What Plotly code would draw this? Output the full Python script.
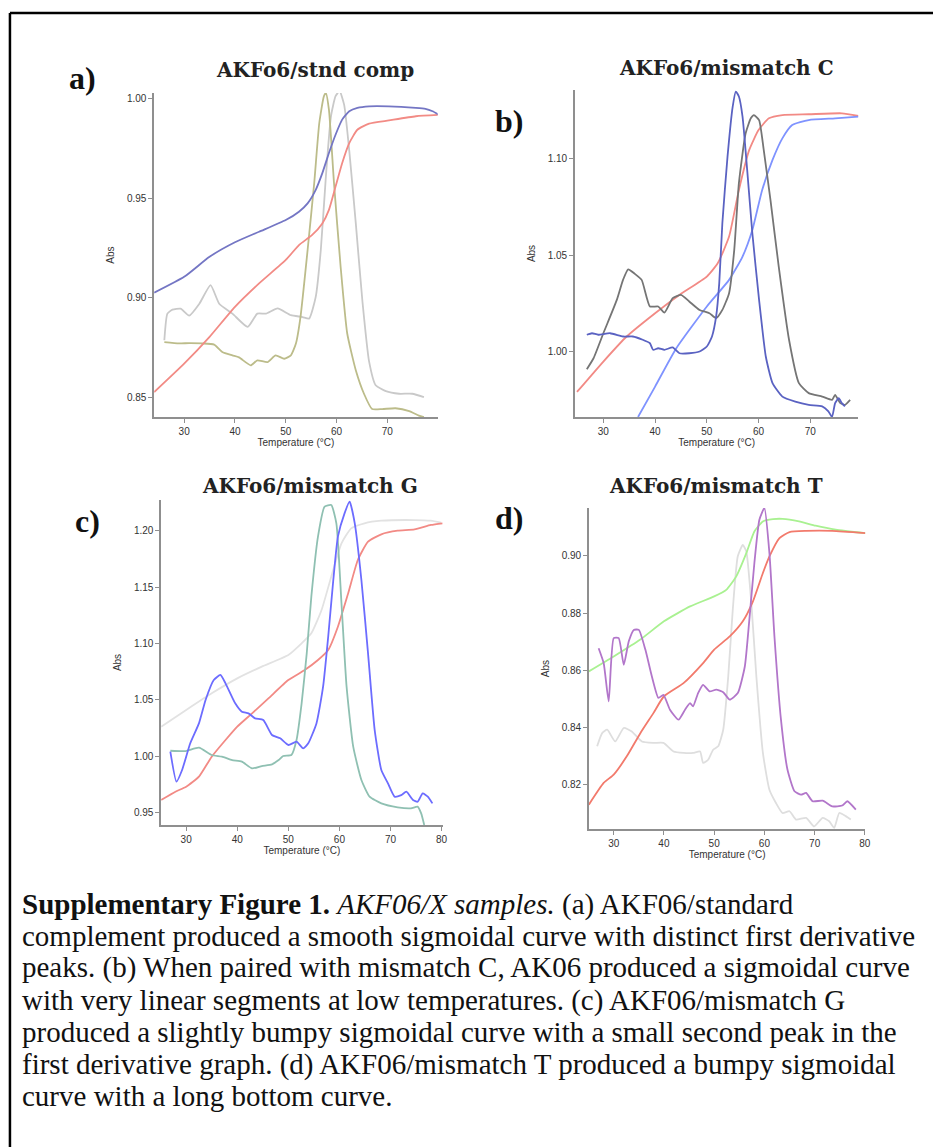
import plotly.graph_objects as go

W, H = 938, 1147

# ---------------- Panel a: AKFo6/stnd comp ----------------
a_sig_blue_T = [24.1, 30, 35, 40, 44.75, 50, 52.6, 54.3, 55.9, 57.2, 58.5, 59.8, 61.1, 62.5, 64.1, 66.4, 70.3, 75.6, 77.5, 78.9, 80.2]
a_sig_blue_v = [0.9025, 0.9105, 0.9206, 0.9279, 0.9332, 0.9391, 0.9433, 0.9475, 0.9543, 0.9627, 0.9728, 0.982, 0.9896, 0.9938, 0.9955, 0.9963, 0.9963, 0.9955, 0.995, 0.9938, 0.992]
a_sig_red_T = [24.1, 30, 35, 40, 44.75, 50, 52.6, 55.2, 57.2, 58.5, 59.8, 61.1, 62.5, 64.1, 66.4, 70.3, 75.6, 80.2]
a_sig_red_v = [0.8525, 0.8668, 0.8803, 0.8954, 0.9072, 0.919, 0.9265, 0.9316, 0.9374, 0.9442, 0.9559, 0.9677, 0.9778, 0.9845, 0.9876, 0.9892, 0.9913, 0.992]
a_der_gray_T = [26.1, 26.7, 27.7, 29.3, 31, 33, 35.2, 36.9, 39.5, 42.5, 44.4, 46.1, 48.4, 51, 53.3, 54.6, 55.9, 56.9, 57.9, 58.9, 59.8, 60.6, 61.5, 62.5, 63.8, 65.1, 66.4, 67.7, 69.7, 72.3, 74.9, 77.2]
a_der_gray_v = [0.8786, 0.892, 0.894, 0.8945, 0.891, 0.897, 0.9063, 0.897, 0.892, 0.8853, 0.892, 0.892, 0.8946, 0.8912, 0.8903, 0.8895, 0.9004, 0.924, 0.961, 0.9913, 1.0014, 1.004, 0.997, 0.974, 0.937, 0.898, 0.868, 0.856, 0.853, 0.8517, 0.8517, 0.850]
a_der_olive_T = [26.1, 29, 31, 33.6, 35.9, 37.5, 39.5, 40.8, 43.1, 44.4, 46.4, 48, 49.7, 51, 52, 52.9, 54.3, 55.6, 56.6, 57.5, 57.9, 58.5, 59.5, 60.8, 62.1, 63.8, 65.4, 67, 69, 71.6, 74.3, 76.2, 77.2]
a_der_olive_v = [0.8777, 0.877, 0.8772, 0.877, 0.8764, 0.8727, 0.871, 0.870, 0.866, 0.8685, 0.8676, 0.871, 0.8693, 0.871, 0.877, 0.8903, 0.924, 0.9576, 0.9879, 1.0013, 1.003, 0.9946, 0.9576, 0.9156, 0.882, 0.8634, 0.8517, 0.844, 0.844, 0.8444, 0.843, 0.8407, 0.840]

# ---------------- Panel b: AKFo6/mismatch C ----------------
b_sig_red_T = [24.9, 30, 34.5, 40, 44.7, 50, 52.1, 54.3, 56.2, 58.2, 60, 62, 64.6, 69.7, 76.1, 79.3]
b_sig_red_v = [0.979, 0.9948, 1.0078, 1.0199, 1.0294, 1.0389, 1.0458, 1.0597, 1.0839, 1.1047, 1.115, 1.1211, 1.1228, 1.1232, 1.1237, 1.1223]
b_sig_blue_T = [36.7, 40, 44.1, 50, 54.3, 56.9, 58.8, 60.7, 62.7, 64.6, 66.5, 69.7, 74.8, 79.3]
b_sig_blue_v = [0.966, 0.9818, 1.0017, 1.0234, 1.0372, 1.0493, 1.0631, 1.0839, 1.0995, 1.1107, 1.1176, 1.1202, 1.1211, 1.122]
b_der_gray_T = [26.8, 28.1, 30, 32.6, 33.8, 34.8, 36.1, 37.4, 39, 40.6, 41.8, 43.4, 45, 46.6, 48.6, 50.5, 51.8, 53, 54.3, 55.3, 56.2, 57.5, 58.5, 59.1, 60.1, 61, 62.3, 63.9, 65.9, 67.8, 69.7, 72.3, 74.2, 74.8, 75.8, 76.7, 77.7]
b_der_gray_v = [0.9908, 0.9965, 1.0095, 1.0268, 1.0372, 1.0427, 1.0403, 1.0372, 1.0234, 1.0234, 1.0202, 1.0277, 1.0294, 1.026, 1.0216, 1.0199, 1.0173, 1.0216, 1.0303, 1.0528, 1.0874, 1.1133, 1.1211, 1.1228, 1.1202, 1.1047, 1.0787, 1.0441, 1.006, 0.9836, 0.9784, 0.9766, 0.9749, 0.9775, 0.9732, 0.9723, 0.9749]
b_der_blue_T = [26.8, 27.8, 29.0, 31.3, 33.8, 35.7, 37.6, 39, 39.6, 40.6, 41.8, 43.4, 44.7, 46.6, 48.6, 50, 51, 51.8, 52.4, 53, 54, 55, 55.6, 56.2, 56.9, 57.8, 58.8, 60.1, 61.4, 62.7, 64.6, 67.1, 69.7, 72.3, 73.5, 74.2, 74.8, 75.5, 76.1, 76.7]
b_der_blue_v = [1.0087, 1.0095, 1.0087, 1.0095, 1.0078, 1.0078, 1.0061, 1.0043, 1.0009, 1.0017, 1.0009, 1.0021, 0.9991, 0.9991, 1.0, 1.0026, 1.0078, 1.0182, 1.0355, 1.0666, 1.1012, 1.1272, 1.135, 1.1324, 1.122, 1.0943, 1.0614, 1.0268, 0.9974, 0.9836, 0.9766, 0.974, 0.9723, 0.9715, 0.9689, 0.966, 0.9732, 0.9758, 0.9732, 0.9715]

# ---------------- Panel c: AKFo6/mismatch G ----------------
c_sig_gray_T = [25.1, 30, 35, 40, 44.8, 50, 52.6, 54.5, 56.5, 58.4, 60.4, 62.3, 64.9, 68.2, 74.7, 77.9, 79.9]
c_sig_gray_v = [1.026, 1.0409, 1.0557, 1.069, 1.0794, 1.0897, 1.1001, 1.109, 1.1297, 1.1594, 1.189, 1.2023, 1.2068, 1.2091, 1.2097, 1.2091, 1.2073]
c_sig_red_T = [25.1, 27.9, 30, 32.5, 35, 37.7, 40, 42.9, 46.1, 50, 53.2, 55.8, 57.8, 59.7, 61.7, 63.6, 65.6, 68.2, 71.4, 74.7, 77.9, 80.2]
c_sig_red_v = [0.9609, 0.9683, 0.9727, 0.9816, 0.9994, 1.0142, 1.0261, 1.0379, 1.0512, 1.0675, 1.0764, 1.0853, 1.0942, 1.1149, 1.1445, 1.1742, 1.1905, 1.197, 1.2002, 1.2014, 1.2053, 1.2068]
c_der_blue_T = [26.9, 28.1, 29.2, 30.8, 32.5, 33.8, 35.4, 36.7, 37.7, 39.6, 40.9, 42.2, 43.5, 45.1, 46.8, 48.4, 50, 51.6, 52.9, 53.9, 55.5, 56.8, 57.8, 58.8, 59.7, 61, 62, 63, 64.3, 65.6, 66.9, 68.2, 69.5, 70.8, 72.1, 73.1, 74.4, 75.3, 76.3, 77.3, 78.2]
c_der_blue_v = [1.0039, 0.9772, 0.9876, 1.0113, 1.029, 1.0498, 1.0675, 1.072, 1.0646, 1.0468, 1.0394, 1.0379, 1.0335, 1.032, 1.0187, 1.0157, 1.0098, 1.0127, 1.0068, 1.0113, 1.029, 1.0616, 1.106, 1.1564, 1.1949, 1.2156, 1.226, 1.2068, 1.1564, 1.0912, 1.0231, 0.9876, 0.9757, 0.9639, 0.9653, 0.9683, 0.9609, 0.9594, 0.9668, 0.9639, 0.9579]
c_der_teal_T = [26.9, 29.9, 32.5, 35, 37, 39, 40.9, 42.9, 44.8, 46.8, 48.1, 49, 50.6, 51.6, 52.6, 53.6, 54.5, 55.8, 57.1, 58.4, 59.4, 60.4, 61.4, 62.7, 64.3, 65.9, 68.2, 71.4, 74, 75.3, 76, 76.6]
c_der_teal_v = [1.0047, 1.0044, 1.0074, 1.0009, 0.9994, 0.9964, 0.995, 0.989, 0.9911, 0.9926, 0.9964, 1.0, 1.0009, 1.0142, 1.0468, 1.0912, 1.1416, 1.1949, 1.2216, 1.223, 1.2068, 1.1357, 1.0616, 1.0083, 0.9787, 0.9639, 0.9579, 0.9544, 0.9535, 0.955, 0.949, 0.9387]

# ---------------- Panel d: AKFo6/mismatch T ----------------
d_sig_green_T = [25.05, 30, 35.3, 40, 45.2, 50, 52.4, 54.4, 56.4, 58, 59.7, 61.7, 63.6, 66.9, 70.2, 74.2, 80.1]
d_sig_green_v = [0.8596, 0.8648, 0.8707, 0.8771, 0.8823, 0.8858, 0.8881, 0.8928, 0.9009, 0.9085, 0.912, 0.9128, 0.9129, 0.912, 0.9105, 0.9091, 0.9079]
d_sig_red_T = [25.05, 28, 30, 32.6, 35.3, 37.9, 40, 43.9, 47.8, 50, 53.1, 55.7, 57.7, 59.7, 61, 63, 65, 68.3, 73.5, 80.1]
d_sig_red_v = [0.813, 0.8206, 0.8235, 0.8299, 0.838, 0.845, 0.8509, 0.8555, 0.8625, 0.8672, 0.8718, 0.8771, 0.884, 0.894, 0.8998, 0.9062, 0.9083, 0.9087, 0.9087, 0.9079]
d_der_purple_T = [27, 28, 29, 30, 31, 32, 33, 34, 35, 36.3, 37.6, 38.9, 39.9, 41.2, 42.9, 44.2, 45.2, 45.8, 46.8, 47.8, 49.1, 50.4, 51.8, 53.1, 54.7, 56.1, 57, 58, 59, 60, 61, 62, 63.3, 64.6, 66, 67.3, 68.3, 69.6, 71.6, 73.5, 75.5, 76.5, 78.2]
d_der_purple_v = [0.8677, 0.8625, 0.8491, 0.8712, 0.8712, 0.8619, 0.8701, 0.8741, 0.8741, 0.8672, 0.8578, 0.8503, 0.8514, 0.8462, 0.8427, 0.8462, 0.8485, 0.8474, 0.852, 0.8549, 0.8526, 0.8532, 0.8523, 0.8497, 0.852, 0.8613, 0.8776, 0.8974, 0.9126, 0.9167, 0.9009, 0.8718, 0.8427, 0.8252, 0.8177, 0.8165, 0.8171, 0.8142, 0.8144, 0.8124, 0.8127, 0.8142, 0.8113]
d_der_gray_T = [26.7, 27.7, 28.7, 30.3, 32, 33.6, 35.6, 37.9, 39.9, 41.9, 43.9, 45.8, 47.2, 47.8, 48.8, 49.8, 50.8, 51.8, 52.8, 53.7, 54.7, 55.7, 56.4, 57.4, 58.4, 59.7, 61, 62.3, 63.6, 65, 66.3, 68.3, 69.9, 71.6, 72.9, 73.9, 74.9, 76.2, 77.2]
d_der_gray_v = [0.8334, 0.838, 0.8392, 0.8351, 0.8398, 0.8386, 0.8351, 0.8346, 0.8346, 0.8316, 0.8311, 0.8311, 0.8316, 0.8276, 0.8287, 0.8322, 0.8334, 0.8392, 0.8578, 0.8811, 0.8998, 0.9038, 0.9015, 0.8834, 0.8578, 0.8311, 0.8182, 0.8136, 0.8101, 0.8107, 0.8078, 0.8084, 0.8054, 0.8084, 0.8072, 0.8049, 0.8101, 0.809, 0.8078]

titles = ["AKFo6/stnd comp", "AKFo6/mismatch C", "AKFo6/mismatch G", "AKFo6/mismatch T"]
panel_labels = ["a)", "b)", "c)", "d)"]
x_tick_vals = [[30, 40, 50, 60, 70], [30, 40, 50, 60, 70], [30, 40, 50, 60, 70, 80], [30, 40, 50, 60, 70, 80]]
y_tick_vals = [[0.85, 0.90, 0.95, 1.00], [1.00, 1.05, 1.10], [0.95, 1.00, 1.05, 1.10, 1.15, 1.20], [0.82, 0.84, 0.86, 0.88, 0.90]]
caption_lines = [
    "<b>Supplementary Figure 1.</b> <i>AKF06/X samples.</i> (a) AKF06/standard",
    "complement produced a smooth sigmoidal curve with distinct first derivative",
    "peaks. (b) When paired with mismatch C, AK06 produced a sigmoidal curve",
    "with very linear segments at low temperatures. (c) AKF06/mismatch G",
    "produced a slightly bumpy sigmoidal curve with a small second peak in the",
    "first derivative graph. (d) AKF06/mismatch T produced a bumpy sigmoidal",
    "curve with a long bottom curve.",
]

# pixel boxes of plotting areas: (left, top, right, bottom)
boxes = [(155, 93, 440, 417), (578, 90, 863, 417), (162, 500, 445, 825), (592, 508, 870, 829)]
xranges = [[24.1, 79.9], [24.5, 79.3], [25.1, 80.2], [25.05, 80.1]]
yranges = [[0.840, 1.003], [0.966, 1.1358], [0.9387, 1.2275], [0.8045, 0.9167]]
title_pos = [(317, 70), (730, 68), (312, 486), (720, 486)]
label_pos = [(83, 78), (512, 121), (88, 521), (512, 518)]

series = [
    [(a_der_gray_T, a_der_gray_v, "#c9c9c9"), (a_der_olive_T, a_der_olive_v, "#bcbc8a"),
     (a_sig_red_T, a_sig_red_v, "#f28b85"), (a_sig_blue_T, a_sig_blue_v, "#7476c4")],
    [(b_sig_red_T, b_sig_red_v, "#f28a85"), (b_sig_blue_T, b_sig_blue_v, "#7f93ff"),
     (b_der_gray_T, b_der_gray_v, "#757575"), (b_der_blue_T, b_der_blue_v, "#5a62c2")],
    [(c_sig_gray_T, c_sig_gray_v, "#e2e2e2"), (c_sig_red_T, c_sig_red_v, "#f28a85"),
     (c_der_teal_T, c_der_teal_v, "#8fc0b2"), (c_der_blue_T, c_der_blue_v, "#6c6cff")],
    [(d_der_gray_T, d_der_gray_v, "#dedede"), (d_sig_green_T, d_sig_green_v, "#a9f191"),
     (d_sig_red_T, d_sig_red_v, "#f27a6c"), (d_der_purple_T, d_der_purple_v, "#b276ca")],
]

fig = go.Figure()
layout_axes = {}
annotations = []
small_font = dict(family="Liberation Sans, Arial", size=10, color="#333333")
for i in range(4):
    n = "" if i == 0 else str(i + 1)
    l, t, r, b = boxes[i]
    for T, v, col in series[i]:
        fig.add_trace(go.Scatter(x=T, y=v, mode="lines",
                                 line=dict(color=col, width=1.8, shape="spline", smoothing=0.5),
                                 xaxis="x" + n, yaxis="y" + n, showlegend=False, hoverinfo="skip"))
    axstyle = dict(showgrid=False, zeroline=False, showline=True, linecolor="#8f8f8f", linewidth=1.5,
                   ticks="outside", ticklen=4, tickwidth=1.2, tickcolor="#8f8f8f", tickfont=small_font)
    layout_axes["xaxis" + n] = dict(axstyle, domain=[l / W, r / W], range=xranges[i], anchor="y" + n,
                                   tickvals=x_tick_vals[i],
                                   title=dict(text="Temperature (°C)", standoff=1, font=small_font))
    layout_axes["yaxis" + n] = dict(axstyle, domain=[1 - b / H, 1 - t / H], range=yranges[i], anchor="x" + n,
                                   tickvals=y_tick_vals[i], tickformat=".2f",
                                   title=dict(text="Abs", standoff=10, font=small_font))
    annotations.append(dict(x=title_pos[i][0] / W, y=1 - title_pos[i][1] / H, xref="paper", yref="paper",
                            text="<b>" + titles[i] + "</b>", showarrow=False, xanchor="center", yanchor="middle",
                            font=dict(family="DejaVu Serif", size=20, color="#222222")))
    annotations.append(dict(x=label_pos[i][0] / W, y=1 - label_pos[i][1] / H, xref="paper", yref="paper",
                            text="<b>" + panel_labels[i] + "</b>", showarrow=False, xanchor="center", yanchor="middle",
                            font=dict(family="Liberation Serif", size=32, color="#111111")))

cap_y0, cap_dy = 904, 32
for k, line in enumerate(caption_lines):
    annotations.append(dict(x=20 / W, y=1 - (cap_y0 + k * cap_dy) / H, xref="paper", yref="paper",
                            text=line, showarrow=False, xanchor="left", yanchor="middle",
                            font=dict(family="Liberation Serif", size=29, color="#111111")))

shapes = [
    dict(type="line", xref="paper", yref="paper", x0=10 / W, x1=1, y0=1 - 13 / H, y1=1 - 13 / H,
         line=dict(color="black", width=2.5)),
    dict(type="line", xref="paper", yref="paper", x0=10 / W, x1=10 / W, y0=0, y1=1 - 13 / H,
         line=dict(color="black", width=2.5)),
]

fig.update_layout(width=W, height=H, margin=dict(l=0, r=0, t=0, b=0), paper_bgcolor="white",
                  plot_bgcolor="white", annotations=annotations, shapes=shapes, **layout_axes)
fig.write_html("out.html")
